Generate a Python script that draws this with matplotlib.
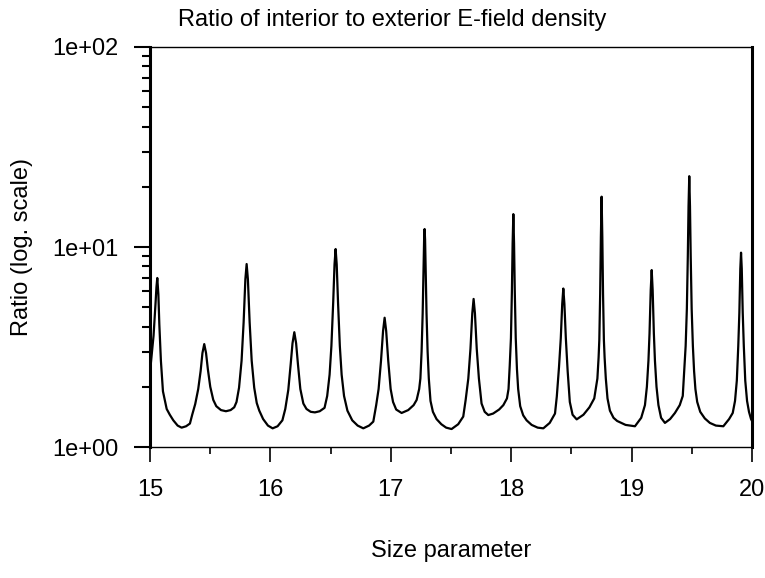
import matplotlib
matplotlib.use('Agg')
import matplotlib.pyplot as plt
from matplotlib.ticker import LogLocator, FuncFormatter, MultipleLocator, NullFormatter

plt.rcParams['font.family'] = ['Liberation Sans', 'DejaVu Sans']

# size parameter vs ratio (one row per resonance)
size_param = [15.000, 15.015, 15.030, 15.040, 15.047, 15.054, 15.061, 15.070, 15.078, 15.091, 15.108, 15.139, 15.165, 15.194, 15.230, 15.263,
              15.300, 15.332, 15.351, 15.376, 15.401, 15.421, 15.436, 15.451, 15.466, 15.481, 15.501, 15.526, 15.551, 15.590, 15.631, 15.670, 15.700,
              15.719, 15.740, 15.761, 15.778, 15.7925, 15.803, 15.8135, 15.828, 15.845, 15.866, 15.887, 15.908, 15.940, 15.980, 16.019,
              16.060, 16.100, 16.124, 16.149, 16.169, 16.184, 16.199, 16.214, 16.229, 16.249, 16.274, 16.300, 16.335, 16.370,
              16.410, 16.450, 16.472, 16.492, 16.507, 16.522, 16.533, 16.542, 16.551, 16.562, 16.577, 16.592, 16.612, 16.640, 16.680, 16.725, 16.772,
              16.820, 16.855, 16.879, 16.899, 16.919, 16.936, 16.949, 16.962, 16.979, 16.999, 17.019, 17.045, 17.090, 17.145, 17.190, 17.215,
              17.236, 17.246, 17.256, 17.265, 17.272, 17.277, 17.281, 17.285, 17.290, 17.297, 17.306, 17.316, 17.330, 17.350, 17.380, 17.420, 17.460, 17.505,
              17.560, 17.602, 17.622, 17.644, 17.662, 17.677, 17.688, 17.699, 17.714, 17.732, 17.754, 17.780, 17.810, 17.850, 17.900, 17.935, 17.965,
              17.978, 17.988, 17.998, 18.006, 18.012, 18.018, 18.024, 18.030, 18.038, 18.048, 18.058, 18.075, 18.100, 18.128, 18.170, 18.220, 18.267,
              18.320, 18.364, 18.379, 18.397, 18.412, 18.424, 18.433, 18.442, 18.454, 18.469, 18.487, 18.510, 18.544, 18.600, 18.650, 18.690,
              18.716, 18.726, 18.732, 18.739, 18.745, 18.751, 18.757, 18.763, 18.770, 18.776, 18.786, 18.800, 18.820, 18.850, 18.880, 18.950, 19.028,
              19.080, 19.111, 19.127, 19.140, 19.149, 19.159, 19.167, 19.175, 19.185, 19.194, 19.207, 19.223, 19.245, 19.277, 19.320, 19.360, 19.400, 19.425,
              19.439, 19.449, 19.459, 19.467, 19.473, 19.479, 19.485, 19.491, 19.499, 19.509, 19.519, 19.530, 19.545, 19.570, 19.608, 19.650, 19.700, 19.762,
              19.810, 19.840, 19.859, 19.874, 19.886, 19.895, 19.903, 19.909, 19.915, 19.923, 19.932, 19.944, 19.959, 19.975, 19.992, 20.000]
ratio = [2.35, 2.90, 3.60, 4.50, 5.30, 6.30, 7.00, 5.80, 4.10, 2.70, 1.90, 1.55, 1.45, 1.36, 1.28, 1.25,
         1.27, 1.31, 1.45, 1.64, 1.95, 2.40, 2.95, 3.27, 2.95, 2.45, 2.00, 1.72, 1.60, 1.53, 1.51, 1.53, 1.58,
         1.68, 1.98, 2.70, 4.20, 6.90, 8.22, 6.90, 4.20, 2.70, 1.98, 1.66, 1.52, 1.38, 1.28, 1.24,
         1.27, 1.36, 1.55, 1.93, 2.60, 3.30, 3.75, 3.30, 2.60, 1.95, 1.65, 1.55, 1.50, 1.49,
         1.51, 1.57, 1.80, 2.30, 3.20, 5.30, 8.20, 9.77, 8.20, 5.30, 3.20, 2.30, 1.80, 1.52, 1.36, 1.28, 1.24,
         1.28, 1.34, 1.62, 1.95, 2.70, 3.80, 4.43, 3.80, 2.70, 1.95, 1.68, 1.54, 1.48, 1.53, 1.62, 1.72,
         1.95, 2.20, 3.00, 4.66, 7.60, 10.90, 12.30, 10.90, 7.60, 4.66, 3.00, 2.20, 1.70, 1.50, 1.38, 1.30, 1.25, 1.23,
         1.30, 1.42, 1.72, 2.20, 3.10, 4.66, 5.50, 4.66, 3.10, 2.20, 1.65, 1.50, 1.445, 1.47, 1.54, 1.62, 1.75,
         1.95, 2.55, 3.50, 6.00, 10.40, 14.60, 10.40, 6.00, 3.50, 2.45, 1.95, 1.60, 1.44, 1.36, 1.29, 1.25, 1.24,
         1.32, 1.47, 1.79, 2.50, 3.50, 5.20, 6.20, 5.20, 3.50, 2.40, 1.68, 1.45, 1.375, 1.45, 1.58, 1.75,
         2.20, 2.80, 3.43, 5.80, 11.20, 17.85, 11.20, 5.80, 3.43, 2.80, 2.20, 1.75, 1.52, 1.40, 1.35, 1.29, 1.27,
         1.40, 1.62, 2.00, 2.70, 3.70, 6.10, 7.67, 6.10, 3.70, 2.70, 2.00, 1.62, 1.40, 1.32, 1.38, 1.48, 1.62, 1.80,
         2.50, 3.20, 4.90, 9.00, 16.00, 22.60, 16.00, 9.00, 4.90, 3.20, 2.40, 1.95, 1.68, 1.50, 1.39, 1.32, 1.28, 1.27,
         1.38, 1.48, 1.70, 2.15, 3.20, 4.70, 7.80, 9.37, 7.80, 4.70, 3.20, 2.15, 1.70, 1.50, 1.38, 1.35]

fig, ax = plt.subplots(figsize=(7.65, 5.78), dpi=100)
fig.subplots_adjust(left=0.196, right=0.983, bottom=0.2266, top=0.9187)

ax.plot(size_param, ratio, color='black', linewidth=1.6)

ax.set_yscale('log')
ax.set_xlim(15, 20)
ax.set_ylim(1, 100)

ax.yaxis.set_major_locator(LogLocator(base=10))
ax.yaxis.set_minor_locator(LogLocator(base=10, subs=range(2, 10)))
ax.yaxis.set_major_formatter(FuncFormatter(lambda v, p: '%.0e' % v))
ax.yaxis.set_minor_formatter(NullFormatter())
ax.xaxis.set_major_locator(MultipleLocator(1))
ax.xaxis.set_minor_locator(MultipleLocator(0.5))

ax.tick_params(axis='y', which='major', direction='out', length=11.5, width=1.5, labelsize=17, pad=11)
ax.tick_params(axis='y', which='minor', direction='out', length=5.5, width=1.5)
ax.tick_params(axis='x', which='major', direction='out', length=10.5, width=1.2, labelsize=17, pad=12.5)
ax.tick_params(axis='x', which='minor', direction='out', length=5, width=1.2)

for s in ['left', 'right']:
    ax.spines[s].set_linewidth(2.2)
for s in ['top', 'bottom']:
    ax.spines[s].set_linewidth(1.0)

# title sits left of the axes centre in the original
ax.set_title('Ratio of interior to exterior E-field density', fontsize=17, pad=15, x=0.402)
ax.set_xlabel('Size parameter', fontsize=17, labelpad=28)
ax.set_ylabel('Ratio (log. scale)', fontsize=17, labelpad=14)

fig.savefig('out.png', dpi=100)
